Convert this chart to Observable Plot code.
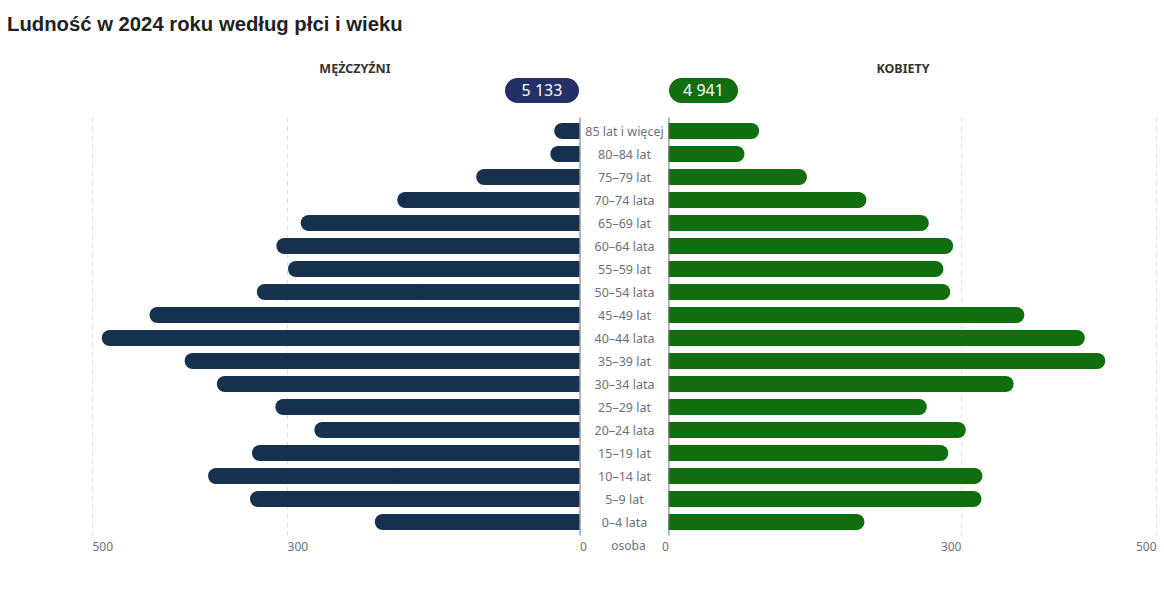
<!DOCTYPE html>
<html>
<head>
<meta charset="utf-8">
<script src="https://cdn.jsdelivr.net/npm/d3@7"></script>
<script src="https://cdn.jsdelivr.net/npm/@observablehq/plot@0.6"></script>
<style>
  html, body { margin: 0; padding: 0; background: #fff; }
  #wrap { position: relative; width: 1164px; height: 611px; overflow: hidden; font-family: "Noto Sans", sans-serif; }
  #title { position: absolute; left: 7px; top: 13px; font: bold 20.3px "Liberation Sans", Arial, sans-serif; color: #222; white-space: nowrap; }
  .hdr { position: absolute; top: 60px; font-weight: bold; font-size: 12.5px; color: #333; transform: translateX(-50%); white-space: nowrap; }
  .badge { position: absolute; top: 78px; height: 25px; line-height: 25px; border-radius: 12.5px; color: #fff; font-size: 16px; text-align: center; }
  #chart { position: absolute; left: 0; top: 0; }
</style>
</head>
<body>
<div id="wrap">
  <div id="chart"></div>
  <div id="title"></div>
  <div class="hdr" id="hMen" style="left:355px"></div>
  <div class="hdr" id="hWomen" style="left:903px"></div>
  <div class="badge" id="bMen" style="left:505px;width:74px;background:#253066"></div>
  <div class="badge" id="bWomen" style="left:669px;width:69px;background:#116e0f"></div>
</div>
<script>
const titleText = "Ludność w 2024 roku według płci i wieku";
const menLabel = "MĘŻCZYŹNI";
const womenLabel = "KOBIETY";
const unitLabel = "osoba";
const ageGroups = ["85 lat i więcej","80–84 lat","75–79 lat","70–74 lata","65–69 lat","60–64 lata","55–59 lat","50–54 lata","45–49 lat","40–44 lata","35–39 lat","30–34 lata","25–29 lat","20–24 lata","15–19 lat","10–14 lat","5–9 lat","0–4 lata"];
const men   = [26, 30, 106, 187, 286, 311, 299, 331, 441, 490, 405, 372, 312, 272, 336, 381, 338, 210];
const women = [93, 78, 142, 203, 267, 292, 282, 289, 365, 427, 448, 354, 265, 305, 287, 322, 321, 201];
const tickValues = [0, 300, 500];
const axisMax = 500;

const fmt = n => String(n).replace(/\B(?=(\d{3})+(?!\d))/g, " ");
document.getElementById("title").textContent = titleText;
document.getElementById("hMen").textContent = menLabel;
document.getElementById("hWomen").textContent = womenLabel;
document.getElementById("bMen").textContent = fmt(d3.sum(men));
document.getElementById("bWomen").textContent = fmt(d3.sum(women));

// half-gap (in value units) reserved for the central label column
const G = 45.6;
const rows = ageGroups.map((a, i) => ({age: a, men: men[i], women: women[i]}));
const leftTicks = tickValues.map(t => -(t + G));
const rightTicks = tickValues.map(t => t + G);
const gridTicks = tickValues.filter(t => t > 0);
const tf = d => String(Math.round(Math.abs(d) - G));

const menColor = "#16304f", womenColor = "#116e0f";
const axisColor = "#6e7079";
const bar = {insetTop: 4, insetBottom: 3};

const chart = Plot.plot({
  width: 1164,
  height: 611,
  marginTop: 118.5,
  marginBottom: 77.5,
  marginLeft: 92,
  marginRight: 8,
  style: {fontFamily: "'Noto Sans', sans-serif", background: "transparent", overflow: "visible"},
  x: {domain: [-(axisMax + G), axisMax + G], axis: null},
  y: {domain: ageGroups, padding: 0, round: true, axis: null},
  marks: [
    Plot.ruleX(gridTicks.flatMap(t => [-(t + G), t + G]), {stroke: "#e0e0e0", strokeDasharray: "5,4", insetTop: -1, insetBottom: -2}),
    // men bars (rounded outer end, square inner end)
    Plot.barX(rows, {y: "age", x1: -G, x2: d => -(d.men + G), fill: menColor, rx: 8, ...bar}),
    Plot.barX(rows, {y: "age", x1: -G, x2: d => -(d.men / 2 + G), fill: menColor, ...bar}),
    // women bars
    Plot.barX(rows, {y: "age", x1: G, x2: d => d.women + G, fill: womenColor, rx: 8, ...bar}),
    Plot.barX(rows, {y: "age", x1: G, x2: d => d.women / 2 + G, fill: womenColor, ...bar}),
    // central axis lines
    Plot.ruleX([-G, G], {stroke: axisColor, strokeWidth: 1, insetTop: -1, insetBottom: -2}),
    // category labels
    Plot.text(rows, {x: () => 0, y: "age", text: "age", fill: axisColor, fontSize: 12.5, textAnchor: "middle", dy: 0.5}),
    // bottom axes
    Plot.axisX({ticks: leftTicks, tickFormat: tf, tickSize: 0, tickPadding: 8, textAnchor: "start", fill: axisColor, fontSize: 12, anchor: "bottom", label: null}),
    Plot.axisX({ticks: rightTicks, tickFormat: tf, tickSize: 0, tickPadding: 8, textAnchor: "end", fill: axisColor, fontSize: 12, anchor: "bottom", label: null}),
    Plot.text([unitLabel], {x: () => 0, frameAnchor: "bottom", dy: 16, dx: 4, text: d => d, fill: axisColor, fontSize: 12})
  ]
});
document.getElementById("chart").appendChild(chart);
</script>
</body>
</html>
